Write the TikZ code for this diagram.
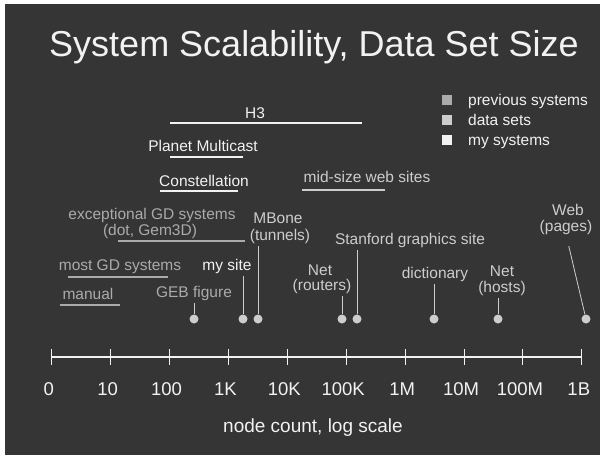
\documentclass[tikz,border=0pt]{standalone}
\usepackage{fontspec}
\setmainfont{Liberation Sans}
\usepackage{tikz}
\definecolor{slidebg}{HTML}{353535}
\definecolor{mycol}{HTML}{F2F2F2}
\definecolor{prevcol}{HTML}{ABABAB}
\definecolor{datacol}{HTML}{CDCDCD}

\begin{document}
\begin{tikzpicture}[x=1pt,y=-1pt,
  lbl/.style={inner sep=0pt,anchor=base,font=\fontsize{15.5}{17}\selectfont},
  ticklbl/.style={inner sep=0pt,anchor=base,text=mycol,font=\fontsize{18.5}{20}\selectfont},
  bar/.style={line width=1.6pt},
  stem/.style={line width=0.8pt,datacol,shorten <=3pt},
  dot/.style={circle,fill=datacol,minimum size=9pt,inner sep=0pt},
  sq/.style={minimum size=10pt,inner sep=0pt}]
\useasboundingbox (0,0) rectangle (600,455);
\fill [white] (0,0) rectangle (600,455);
\fill [slidebg] (5,4) rectangle (600,455);

\node [lbl,text=mycol,font=\fontsize{36}{40}\selectfont] (title) at (314,56) {System Scalability, Data Set Size};

% legend
\node [sq,fill=prevcol] (sqprev) at (446.5,100) {};
\node [sq,fill=datacol] (sqdata) at (446.5,120) {};
\node [sq,fill=mycol] (sqmy) at (446.5,140) {};
\node [lbl,anchor=base west,text=mycol] (legprev) at (468,105) {previous systems};
\node [lbl,anchor=base west,text=mycol] (legdata) at (468,125) {data sets};
\node [lbl,anchor=base west,text=mycol] (legmy) at (468,145) {my systems};

% systems, as ranges
\node [lbl,text=mycol] (h3) at (255,118) {H3};
\draw [bar,mycol] (170,123) -- (362,123);
\node [lbl,text=mycol] (planet) at (203,151) {Planet Multicast};
\draw [bar,mycol] (170,157) -- (243,157);
\node [lbl,text=mycol] (constel) at (204,186) {Constellation};
\draw [bar,mycol] (160,191) -- (238,191);
\node [lbl,text=datacol] (midsize) at (367,182) {mid-size web sites};
\draw [bar,datacol] (302,190) -- (385,190);
\node [lbl,text=prevcol] (except) at (152,219) {exceptional GD systems};
\node [lbl,text=prevcol] (dotgem) at (150,235) {(dot, Gem3D)};
\draw [bar,prevcol] (118,241) -- (245,241);
\node [lbl,text=prevcol] (mostgd) at (120,270) {most GD systems};
\draw [bar,prevcol] (68,277) -- (168,277);
\node [lbl,text=prevcol] (manual) at (88,299) {manual};
\draw [bar,prevcol] (60,305) -- (120,305);

% data sets, as points
\node [dot] (gebdot) at (194,319) {};
\node [dot] (mysitedot) at (243,319) {};
\node [dot] (mbonedot) at (258,319) {};
\node [dot] (routersdot) at (342,319) {};
\node [dot] (stanforddot) at (357,319) {};
\node [dot] (dictdot) at (434,319) {};
\node [dot] (hostsdot) at (498,319) {};
\node [dot] (webdot) at (586,319) {};

\node [lbl,text=prevcol] (geb) at (194,297) {GEB figure};
\node [lbl,text=mycol] (mysite) at (227,270) {my site};
\node [lbl,text=datacol] (mbone) at (278,223) {MBone};
\node [lbl,text=datacol] (tunnels) at (280,240) {(tunnels)};
\node [lbl,text=datacol] (stanford) at (410,244) {Stanford graphics site};
\node [lbl,text=datacol] (netr) at (320,275) {Net};
\node [lbl,text=datacol] (routers) at (322,290) {(routers)};
\node [lbl,text=datacol] (dict) at (435,278) {dictionary};
\node [lbl,text=datacol] (neth) at (502,276) {Net};
\node [lbl,text=datacol] (hosts) at (502,292) {(hosts)};
\node [lbl,text=datacol] (web) at (568,215) {Web};
\node [lbl,text=datacol] (pages) at (566,231) {(pages)};

\draw [stem] (gebdot |- geb.south) -- (gebdot);
\draw [stem] (mysitedot |- mysite.south) -- (mysitedot);
\draw [stem] (mbonedot |- tunnels.south) -- (mbonedot);
\draw [stem] (stanforddot |- stanford.south) -- (stanforddot);
\draw [stem] (routersdot |- routers.south) -- (routersdot);
\draw [stem] (dictdot |- dict.south) -- (dictdot);
\draw [stem] (hostsdot |- hosts.south) -- (hostsdot);
\draw [stem,shorten <=12pt] (pages.south) -- (webdot);

% log axis
\draw [line width=1.6pt,mycol] (51.7,357) -- (581.7,357);
\foreach \lab [count=\i from 0] in {0,10,100,1K,10K,100K,1M,10M,100M,1B} {
  \draw [line width=1pt,mycol] (51.7+58.9*\i,349) -- ++(0,16);
  \node [ticklbl] (tick\i) at (48.7+58.9*\i,395) {\lab};
}
\node [ticklbl,font=\fontsize{19}{21}\selectfont] (xlabel) at (313,432) {node count, log scale};
\end{tikzpicture}
\end{document}
